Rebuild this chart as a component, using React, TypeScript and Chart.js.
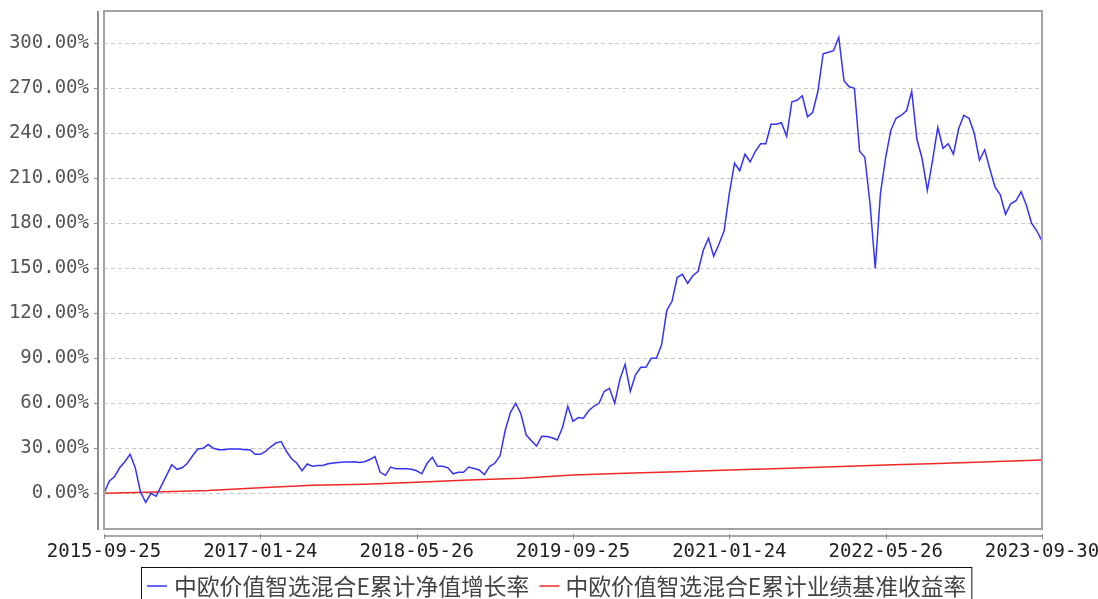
import React, { useEffect, useRef } from "react";
import { Chart, registerables } from "chart.js";

Chart.register(...registerables);

// ---- data ----
const xTickLabels = ["2015-09-25", "2017-01-24", "2018-05-26", "2019-09-25", "2021-01-24", "2022-05-26", "2023-09-30"];
const xTickPositions = [0, 30, 60, 90, 120, 150, 180];
const yTickValues = [0, 30, 60, 90, 120, 150, 180, 210, 240, 270, 300];
const seriesNames = ["中欧价值智选混合E累计净值增长率", "中欧价值智选混合E累计业绩基准收益率"];

// cumulative NAV growth (%), sampled evenly over the period
const navGrowth = [
  0, 8, 11, 17, 21, 26, 17, 1, -6, 0,
  -2, 5, 12, 19, 16, 17, 20, 25, 29.5, 30,
  32.5, 30, 29, 29, 29.5, 29.5, 29.5, 29, 29, 26,
  26, 28, 31, 33.5, 34.5, 28, 23, 20, 15, 19.5,
  18, 18.6, 18.6, 19.7, 20.2, 20.6, 20.8, 20.8, 21, 20.5,
  21, 22.5, 24.5, 14, 12, 17.5, 16.4, 16.4, 16.4, 16,
  15, 13, 20, 24, 18, 18, 17, 13, 14, 14,
  17.5, 16.5, 15.5, 12.5, 18, 20, 25, 42, 54, 60,
  53, 39, 35, 31.5, 38, 37.8, 37, 35.5, 44, 58,
  48, 50.5, 50, 55, 58, 60, 68, 70, 60, 76,
  86, 68, 79, 84, 84, 90, 90, 99, 122, 128,
  144, 146, 140, 145, 148, 162, 170, 158, 166, 175,
  200, 220, 215, 226, 221, 228, 233, 233, 246, 246,
  247, 238, 261, 262, 265, 251, 254, 268, 293, 294,
  295, 304, 275, 271, 270, 228, 224, 193, 150, 200,
  224, 242, 250, 252, 255, 268, 236, 223, 202, 222,
  244, 230, 233, 226, 243, 252, 250, 240, 222, 229,
  216, 204, 199, 186, 193, 195, 201, 192, 180, 175,
  168,
];

// benchmark cumulative return (%)
const benchmarkX = [0, 10, 20, 30, 40, 50, 60, 70, 80, 90, 100, 110, 120, 130, 140, 150, 160, 170, 180];
const benchmarkGrowth = [0, 0.9, 1.8, 3.7, 5.3, 6.1, 7.4, 8.9, 10, 12.2, 13.3, 14.4, 15.5, 16.6, 17.7, 18.8, 19.9, 21, 22.2];

const seriesColors = ["#3434f2", "#f02828"];
const TICK_FONT = '"DejaVu Sans Mono", monospace';
const LEGEND_FONT = '22.8px "Noto Sans CJK SC", sans-serif';

const framePlugin = {
  id: "frame",
  afterDraw(chart: any) {
    const { ctx, chartArea: a, scales } = chart;
    ctx.save();
    // plot box
    ctx.strokeStyle = "#a4a4a4";
    ctx.lineWidth = 2;
    ctx.strokeRect(a.left, a.top, a.right - a.left, a.bottom - a.top);

    // detached y axis
    const ax = a.left - 6;
    ctx.strokeStyle = "#8c8c8c";
    ctx.lineWidth = 2;
    ctx.beginPath();
    ctx.moveTo(ax, a.top);
    ctx.lineTo(ax, a.bottom + 1);
    ctx.stroke();
    ctx.lineWidth = 1;
    ctx.beginPath();
    yTickValues.forEach((v) => {
      const y = Math.round(scales.y.getPixelForValue(v)) + 0.5;
      ctx.moveTo(ax - 4, y);
      ctx.lineTo(ax, y);
    });
    ctx.stroke();

    // detached x axis
    const ay = a.bottom + 7;
    ctx.strokeStyle = "#8c8c8c";
    ctx.lineWidth = 1.5;
    ctx.beginPath();
    ctx.moveTo(a.left, ay);
    ctx.lineTo(a.right, ay);
    ctx.stroke();
    ctx.lineWidth = 1;
    ctx.beginPath();
    xTickPositions.forEach((v) => {
      const x = Math.round(scales.x.getPixelForValue(v)) + 0.5;
      ctx.moveTo(x, ay - 2);
      ctx.lineTo(x, ay + 3);
    });
    ctx.stroke();

    // legend
    ctx.font = LEGEND_FONT;
    const widths = seriesNames.map((n) => ctx.measureText(n).width);
    const sample = 20, gapS = 7, gapItem = 10, padL = 6, padR = 5;
    const total = padL + sample + gapS + widths[0] + gapItem + sample + gapS - 1 + widths[1] + padR;
    const left = Math.round(556 - total / 2);
    const top = 567;
    ctx.strokeStyle = "#111";
    ctx.lineWidth = 1;
    ctx.strokeRect(left + 0.5, top + 0.5, total, 40);
    const cy = 586;
    let x = left + padL;
    seriesNames.forEach((name, i) => {
      ctx.strokeStyle = seriesColors[i];
      ctx.lineWidth = 1.5;
      ctx.beginPath();
      ctx.moveTo(x, cy);
      ctx.lineTo(x + sample, cy);
      ctx.stroke();
      x += sample + (i === 0 ? gapS : gapS - 1);
      ctx.fillStyle = "#444";
      ctx.textAlign = "left";
      ctx.textBaseline = "middle";
      ctx.fillText(name, x, cy);
      x += widths[i] + gapItem;
    });
    ctx.restore();
  },
};

export default function App() {
  const ref = useRef<HTMLCanvasElement>(null);
  useEffect(() => {
    const chart = new Chart(ref.current as HTMLCanvasElement, {
      type: "line",
      data: {
        datasets: [
          {
            label: seriesNames[0],
            data: navGrowth.map((v, i) => ({ x: i, y: v })),
            borderColor: seriesColors[0],
            borderWidth: 1.5,
            pointRadius: 0,
            tension: 0,
          },
          {
            label: seriesNames[1],
            data: benchmarkX.map((x, i) => ({ x, y: benchmarkGrowth[i] })),
            borderColor: seriesColors[1],
            borderWidth: 1.5,
            pointRadius: 0,
            tension: 0,
          },
        ],
      },
      options: {
        responsive: false,
        animation: false,
        layout: { padding: { top: 11, right: 56, left: 0, bottom: 0 } },
        plugins: { legend: { display: false }, tooltip: { enabled: false } },
        scales: {
          x: {
            type: "linear",
            min: 0,
            max: 180,
            afterBuildTicks: (s: any) => {
              s.ticks = xTickPositions.map((v) => ({ value: v }));
            },
            afterFit: (s: any) => {
              s.height = 70;
              s.paddingLeft = 0;
              s.paddingRight = 0;
            },
            grid: { display: false, drawTicks: false },
            border: { display: false },
            ticks: {
              autoSkip: false,
              maxRotation: 0,
              padding: 12,
              color: "#222",
              font: { family: TICK_FONT, size: 19 },
              callback: (_v: any, i: number) => xTickLabels[i],
            },
          },
          y: {
            type: "linear",
            min: -23.8,
            max: 321.5,
            afterBuildTicks: (s: any) => {
              s.ticks = yTickValues.map((v) => ({ value: v }));
            },
            afterFit: (s: any) => {
              s.width = 104;
              s.paddingTop = 0;
              s.paddingBottom = 0;
            },
            grid: { color: "#c8c8c8", lineWidth: 1, drawTicks: false },
            border: { display: false, dash: [4, 3] },
            ticks: {
              padding: 15,
              color: "#555",
              font: { family: TICK_FONT, size: 19 },
              callback: (v: any) => Number(v).toFixed(2) + "%",
            },
          },
        },
      },
      plugins: [framePlugin],
    });
    return () => chart.destroy();
  }, []);

  return (
    <div style={{ position: "fixed", left: 0, top: 0, width: 1098, height: 599, background: "#fff" }}>
      <canvas ref={ref} width={1098} height={599} style={{ display: "block" }} />
    </div>
  );
}
